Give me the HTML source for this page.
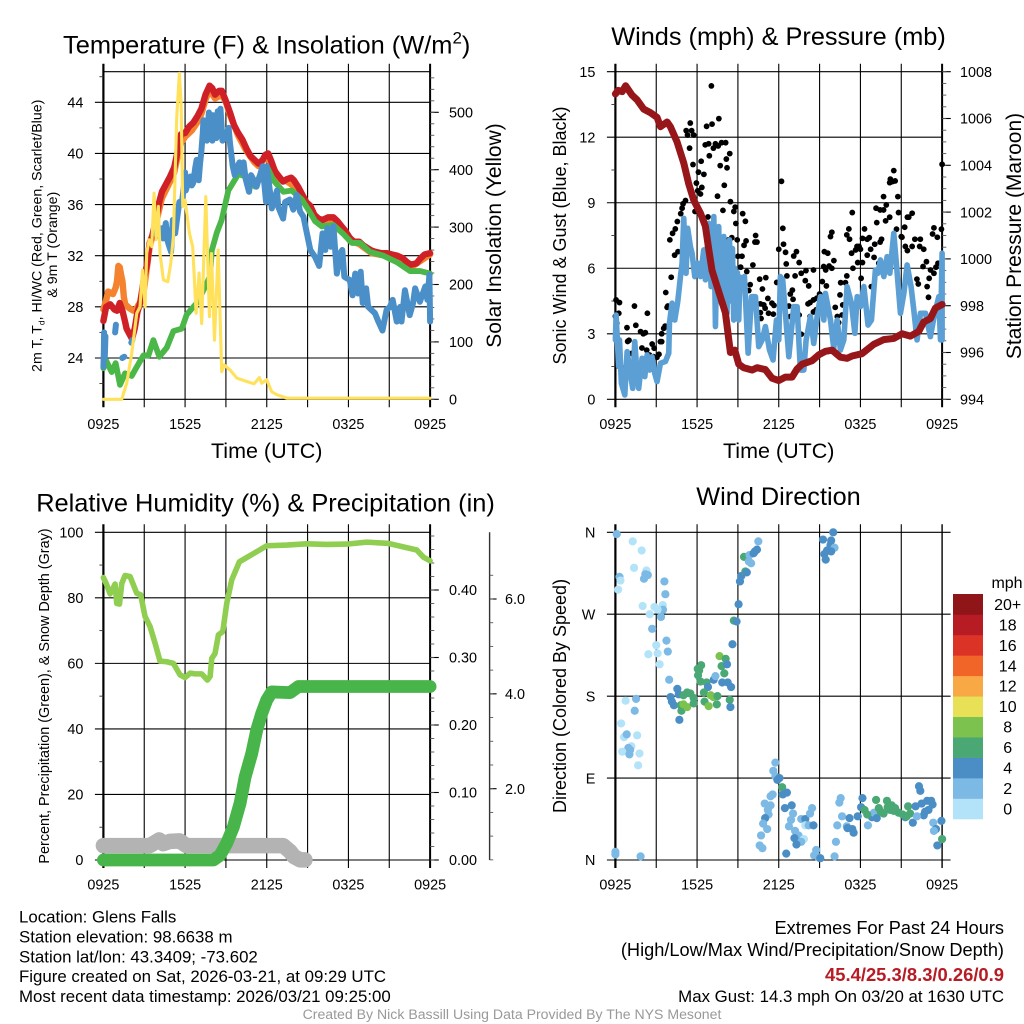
<!DOCTYPE html>
<html lang="en">
<head>
<meta charset="utf-8">
<title>Glens Falls Meteogram</title>
<style>
html,body{margin:0;padding:0;background:#fff;}
svg{display:block;font-family:"Liberation Sans",sans-serif;}
text{fill:#000;}
</style>
</head>
<body>
<svg id="chart" xmlns="http://www.w3.org/2000/svg" width="1024" height="1024" viewBox="0 0 1024 1024">
  <text x="266.7" y="53.5" font-size="25.4" text-anchor="middle">Temperature (F) &amp; Insolation (W/m<tspan dy="-10" font-size="17">2</tspan><tspan dy="10">)</tspan></text>
  <text x="778.5" y="45" font-size="25.3" text-anchor="middle">Winds (mph) &amp; Pressure (mb)</text>
  <text x="265.5" y="511.5" font-size="25.4" text-anchor="middle">Relative Humidity (%) &amp; Precipitation (in)</text>
  <text x="778.5" y="505" font-size="25.3" text-anchor="middle">Wind Direction</text>

  <text transform="translate(41.5,235.8) rotate(-90)" font-size="14.2" text-anchor="middle">2m T, T<tspan dy="3" font-size="8.5">d</tspan><tspan dy="-3">, HI/WC (Red, Green, Scarlet/Blue)</tspan></text>
  <text transform="translate(57,244.7) rotate(-90)" font-size="14.2" text-anchor="middle">&amp; 9m T (Orange)</text>
  <text transform="translate(501,235.5) rotate(-90)" font-size="21" text-anchor="middle">Solar Insolation (Yellow)</text>
  <text x="266.7" y="458" font-size="21.5" text-anchor="middle">Time (UTC)</text>
  <text transform="translate(566,235.5) rotate(-90)" font-size="18" text-anchor="middle">Sonic Wind &amp; Gust (Blue, Black)</text>
  <text transform="translate(1021,236) rotate(-90)" font-size="21" text-anchor="middle">Station Pressure (Maroon)</text>
  <text x="778.7" y="458" font-size="21.5" text-anchor="middle">Time (UTC)</text>
  <text transform="translate(49,696) rotate(-90)" font-size="14.4" text-anchor="middle">Percent, Precipitation (Green), &amp; Snow Depth (Gray)</text>
  <text transform="translate(566,696) rotate(-90)" font-size="18" text-anchor="middle">Direction (Colored By Speed)</text>

  <g id="panel-temperature"></g>
  <g id="panel-winds"></g>
  <g id="panel-humidity"></g>
  <g id="panel-direction"></g>
  <g id="speed-legend">
    <text x="1007" y="588" font-size="16" text-anchor="middle">mph</text>
  </g>

  <g font-size="16.85">
    <text x="19" y="922.5">Location: Glens Falls</text>
    <text x="19" y="942.5">Station elevation: 98.6638 m</text>
    <text x="19" y="962.5">Station lat/lon: 43.3409; -73.602</text>
    <text x="19" y="982">Figure created on Sat, 2026-03-21, at 09:29 UTC</text>
    <text x="19" y="1002">Most recent data timestamp: 2026/03/21 09:25:00</text>
  </g>
  <g font-size="18.2" text-anchor="end">
    <text x="1004" y="934">Extremes For Past 24 Hours</text>
    <text x="1004" y="956">(High/Low/Max Wind/Precipitation/Snow Depth)</text>
    <text x="1004" y="981" font-size="18.4" font-weight="bold" style="fill:#b71c25">45.4/25.3/8.3/0.26/0.9</text>
    <text x="1004" y="1002" font-size="16.85">Max Gust: 14.3 mph On 03/20 at 1630 UTC</text>
  </g>
  <text x="512" y="1019" font-size="14.1" text-anchor="middle" style="fill:#999">Created By Nick Bassill Using Data Provided By The NYS Mesonet</text>
</svg>
<script>
// ---------- shared axis values ----------
const timeTickHours = [0, 3, 6, 9, 12, 15, 18, 21, 24];
const timeTickLabels = ['0925', '', '1525', '', '2125', '', '0325', '', '0925'];

// ---------- temperature panel ----------
const tempTicks = [24, 28, 32, 36, 40, 44];
const solarTicks = [0, 100, 200, 300, 400, 500];
const redHours = [0,.2,.5,.8,1,1.2,1.4,1.6,1.7,1.9,2.1,2.3,2.5,2.7,2.95,3.2,3.4,3.6,3.9,4.1,4.3,4.6,4.9,5.2,5.5,5.7,6,6.3,6.6,6.9,7.2,7.5,7.8,8,8.2,8.5,8.7,9,9.3,9.6,9.9,10.2,10.5,10.8,11.1,11.4,11.7,11.9,12.1,12.3,12.6,12.9,13.2,13.5,13.8,14,14.3,14.6,14.9,15.2,15.5,15.8,16.1,16.5,16.9,17.2,17.5,17.8,18.1,18.4,18.8,19.1,19.4,19.7,20,20.4,20.8,21.2,21.6,22,22.3,22.6,23,23.3,23.6,24];
const redValues = [26.9,28,28.2,27.8,27.7,28.3,27.7,26.8,26.3,25.9,25.5,26.3,27.6,28.3,30,31.3,33,33.6,35,36.2,37,37.6,38.2,38.9,40.4,41.5,41.6,42.1,42.4,42.9,43.5,44.6,45.3,45.1,44.6,44.9,44.9,44.1,43.2,42.2,41.6,41.1,40.4,39.8,39.5,39.2,39.5,39.9,40,39.5,38.6,38.2,37.8,38,38.1,37.9,37.4,36.8,36.2,35.9,35.2,34.9,34.8,35,35,34.7,34.3,33.9,33.4,33.1,33.1,32.8,32.6,32.4,32.3,32.2,32.2,32.1,32,31.8,31.5,31.3,31.4,31.8,32.1,32.2];
const orangeHours = [0,.2,.35,.7,.9,1,1.1,1.2,1.3,1.4,1.5,1.6,1.9,2.2,2.4,2.6,2.8,3,3.4,3.9,4.3,4.9,5.2,5.5,5.7,6,6.5,7,7.2,7.5,7.8,8.2,8.7,9,9.3,9.9,10.5,11.1,11.4,11.9,12.3,12.9,13.5,14.3,14.9,15.5,16.1,16.9,17.5,18.1,18.8,19.7,20.8,21.6,22.6,23.3,24];
const orangeValues = [27.8,28.5,29.2,29,29.5,30,31.2,31.1,30.5,30,28.8,28.2,27.9,27.7,27.8,28.2,28.5,29.5,32.7,34.7,36.5,37.8,38.5,40,40.8,41.3,41.8,42.6,43.1,44.2,45,44.3,44.6,44,43,41.4,40.2,39.3,39,39.7,39.3,38,37.8,37.2,36,35,34.6,34.8,34.1,33.2,32.9,32.2,32,31.8,31.1,31.6,32.1];
const dewGreenHours = [0,.2,.61,.9,1.22,1.59,2.08,2.45,2.94,3.31,3.67,4.11,4.65,5.14,5.76,6.12,6.86,7.35,7.84,7.96,8.33,8.69,9.18,9.92,10.65,11.14,11.51,12,12.49,13.23,13.84,14.57,15.06,15.55,16.04,16.9,17.63,18.25,18.86,19.59,20.57,21.55,22.53,23.27,24];
const dewGreenValues = [23.2,23.8,22.9,23.6,21.9,22.8,22.6,23.3,24.2,24.2,25.4,24.1,24.8,26.1,26.3,27.4,28.3,29.3,30.4,32.4,33.8,34.8,37.1,38.4,38.1,37.4,38.3,39,37.9,37,37.1,36.4,35.6,34.7,34.3,34.4,33.7,33,33,32.3,32,31.5,30.8,30.8,30.6];
const chillBlueHours = [0,.03,.05,.1,.15,null,.86,.92,null,1.38,1.54,null,2.05,2.12,null,3.8,3.92,4.1,4.3,4.4,4.58,4.73,4.97,5.1,5.27,5.4,5.58,5.75,5.9,6,6.05,6.2,6.4,6.5,6.6,6.75,6.85,7,7.1,7.2,7.3,7.35,7.45,7.6,7.75,7.85,8,8.05,8.15,8.3,8.4,8.5,8.6,8.75,8.95,9.05,9.2,9.3,9.5,9.65,9.85,10,10.15,10.3,10.45,10.6,10.7,10.85,11,11.25,11.7,11.95,12,12.25,12.37,12.75,12.85,13.2,13.35,13.7,13.95,14.2,14.45,14.7,14.95,15.2,15.55,15.85,16.1,16.3,16.45,16.7,16.9,17.15,17.4,17.55,17.7,18.1,18.3,18.5,18.7,18.9,19.05,19.3,19.45,19.95,20.2,20.5,20.8,21.05,21.25,21.55,21.8,21.9,22.15,22.5,22.75,22.9,23.25,23.65,23.8,23.95,24];
const chillBlueValues = [23.3,24.4,26,24,25.7,null,26,26.6,null,24,24.1,null,25.2,25.4,null,33.75,34.4,33.5,34.15,33.35,34.55,33.1,32.3,34.8,33.75,34.8,36.2,36,37.3,38.5,37.1,37.6,38.2,37.5,37.7,38.9,39.5,37.9,39.2,40.2,41.6,42.6,41.5,41,43.2,42,41,43,41.3,41.2,43.3,41.5,43.5,41,41.2,41.5,42,40.8,39,38.3,39,39.3,38.5,39.3,38,37.4,37,38.3,38,37.4,39,36.2,39,36.9,35.7,37.1,35.8,34.9,36.2,36.4,35.6,36.75,35.45,35.05,33.75,32.45,31.9,31.2,33.75,32.45,34.15,32.7,34.3,30.6,32.2,32.45,30.35,30.1,28.9,30.6,29.05,30.75,28.3,29.45,28,27.5,26.85,26.15,27.75,28,28.55,26.85,28,26.85,29.3,27.35,28.3,29.45,28.4,29.6,28.55,30.5,26.85];
const solarHours = [0,1.35,1.71,2.08,2.45,2.69,2.87,3.06,3.18,3.36,3.55,3.72,3.87,4.04,4.16,4.41,4.73,4.95,5.14,5.39,5.58,5.71,5.83,6,6.32,6.56,6.81,7.03,7.22,7.52,7.79,7.94,8.16,8.43,8.69,8.87,9.31,9.8,10.53,11.07,11.46,11.63,12,12.37,12.74,13.47,24];
const solarValues = [0,0,28,80,150,161,225,161,254,278,266,359,278,336,254,208,205,237,283,492,568,516,336,347,289,266,150,220,132,353,144,254,103,260,48,60,51,37,31,27,38,28,34,13,8,2,2];

// ---------- winds panel ----------
const windTicks = [0, 3, 6, 9, 12, 15];
const pressureTicks = [994, 996, 998, 1000, 1002, 1004, 1006, 1008];
const sonicHours = [0,.05,.24,.3,.44,.69,.86,1.1,1.27,1.42,1.59,1.71,1.96,2.16,2.33,2.5,2.69,2.89,3.06,3.31,3.67,3.92,3.97,4.16,4.36,4.58,4.78,4.9,5.02,5.19,5.31,5.51,5.63,5.83,6.05,6.25,6.49,6.61,6.86,7.03,7.12,7.18,7.23,7.35,7.45,7.52,7.59,7.68,7.79,7.88,7.96,8.04,8.12,8.2,8.28,8.38,8.5,8.6,8.69,8.78,8.87,8.96,9.06,9.15,9.26,9.48,9.75,10,10.29,10.53,10.78,11.02,11.32,11.58,11.83,12,12.12,12.29,12.49,12.74,13.1,13.35,13.59,13.84,14.01,14.33,14.57,14.82,15.06,15.31,15.43,15.8,16.04,16.29,16.53,16.78,17.02,17.34,17.59,17.76,18,18.25,18.56,18.81,19.1,19.28,19.47,19.72,19.96,20.16,20.45,20.7,20.94,21.19,21.43,21.72,21.92,22.16,22.41,22.78,23.14,23.46,23.76,23.88,24,24];
const sonicValues = [2.72,3.86,1.5,2.72,.73,.2,2.18,1.19,.5,2.64,1.19,.5,1.88,1.04,2.03,1.34,1.95,1.19,.81,1.65,1.73,2.11,3.48,4.4,3.63,4.47,5.62,6.23,8.29,5.77,7.83,6.99,6.69,5.62,6.23,5.62,6.84,5.47,8.06,5.16,7,5.5,8.37,3.33,6.9,4.6,7.91,4.9,4.4,7,7.45,4.6,6.9,3.94,6.6,7.3,4.5,6.9,3.63,6,4.2,5.8,3.63,5.6,5.47,5.62,2.11,4.7,4.7,2.41,2.72,3.33,2.26,1.8,3.63,2.72,5.62,5.47,3.94,1.95,4.24,4.24,1.34,1.34,2.72,3.79,2.56,3.79,4.7,3.63,4.85,3.63,2.34,3.63,2.26,2.72,5.16,4.4,3.02,4.7,4.24,5.16,3.4,3.63,5.92,5.77,6.38,5.62,6.53,5.77,7.6,5.77,3.94,4.85,6.15,5.16,4.09,2.72,3.94,3.94,2.87,3.94,4.7,2.72,6.69,2.72];
const pressureHours = [0,.2,.5,.75,1.22,1.59,2.08,2.57,3.06,3.31,3.8,4.04,4.53,5.02,5.39,5.76,6.25,6.61,6.86,7.1,7.59,8.08,8.33,8.45,8.77,9.06,9.43,10.04,10.41,11.02,11.51,12,12.49,12.98,13.35,13.72,14.45,14.94,15.43,15.92,16.53,17.02,17.39,18.12,18.98,19.71,20.45,21.06,21.67,22.28,22.65,23.14,23.51,24];
const pressureValues = [1007.05,1007.2,1007.15,1007.4,1007,1006.8,1006.4,1006.25,1006.05,1005.65,1005.85,1005.65,1005,1004.1,1003.2,1002.5,1001.95,1001.4,1000.4,999.5,998.6,997.7,996.55,996,996.1,995.5,995.35,995.25,995.35,995.27,994.9,994.8,994.95,994.95,995.3,995.5,995.65,995.9,996.05,996.1,995.8,995.75,995.85,995.95,996.35,996.55,996.6,996.8,996.7,996.9,997.3,997.45,997.9,998.05];
const gustHours = [0,.05,.3,.25,.1,.85,1,.9,1.4,1.5,1.85,2.05,2.2,2.35,1.95,2.3,2.7,2.85,2.5,2.8,3.05,3.2,3.3,3.4,3.4,3.55,3.65,1.2,.55,3.7,3.8,3.85,4.1,4,4.2,4.4,4.35,4.6,4.55,4.8,4.9,4.97,5.15,5.2,5.5,5.3,5.6,5.75,5.45,5.7,5.95,6.05,6.1,6.3,6.5,6.35,6.25,5.85,6.6,6.7,6.85,7.1,7.05,6.9,7.2,7.35,7.6,7.55,7.8,8.1,8.4,8.15,8.2,7.7,8,7.5,6.8,7.9,8.45,8.8,8.7,9.35,8.85,9.55,8.55,8.95,8.3,8.5,9,9.3,9.6,9.45,10.3,10.25,10.4,9.2,10.1,9.65,9.05,10.6,11.05,9.9,10.8,9.8,9.9,10.65,11.2,10.9,11,10.65,10.7,11.25,11.6,11.5,11.65,11.85,12,12.2,12.3,12.35,12.5,12.55,12.6,12.75,12.85,13,13.05,12.85,13.1,13.3,13.2,13.5,13.65,13.5,13.65,14,13.95,14.2,14.55,14.15,14.3,14.55,14.8,15,14.3,14.55,14.75,15.2,15.3,15.5,15.45,15.35,15.6,15.8,15.9,15.7,16.05,15.9,16.15,16.3,16.4,16.65,16.5,16.7,16.55,16.9,17,17.15,17,17.2,17.35,17.4,17.45,17.65,17.75,17.9,18,17.8,18.05,18.15,18.3,18.15,18.5,18.65,18.5,18.75,19,19.05,19.55,19.45,19.15,19.45,19.7,19.9,19.7,19.2,19.85,20.15,19.35,18.8,20.2,20.15,20.35,20.45,20.55,20.75,20.8,20.65,21,21.05,21.25,21.45,21.55,21.8,21.3,21.45,21.8,22,22.35,22.4,22.65,22.15,22.25,22.6,22.85,23,22.9,23.05,23.15,23.4,23.55,23.7,23.3,23.4,23.65,23.95,24];
const gustValues = [3.8,4.55,4.43,3.94,3.48,3.28,2.7,2.65,4.27,3.39,3.1,3,3.05,3.94,2.35,2.25,2.53,2.34,2.03,1.95,1.92,2.06,2.64,2.64,3,3.25,3.35,2.1,1.42,4.89,4.21,4.27,5.59,7.3,7.6,7.8,6.6,6.76,8.14,8.5,8.75,8.95,9.1,12.3,12.65,12.1,12.3,12.1,11.5,10.75,9.9,9.55,10.4,10.9,10.3,9.7,9.4,8.6,11.65,12.5,11.7,12.6,14.35,11.15,11.5,11.7,12.85,11.6,11.75,11.75,11.25,11,10.6,10.7,9.8,9.3,8.35,8.65,9.05,8.8,8.6,8.5,8.05,8.15,7.4,7.3,7.3,6.7,6.55,6.55,7.25,7.05,7.5,7.2,7.2,6.05,6.15,5.85,5.6,5.5,5.57,5.25,5.05,4.98,4.27,4.37,4.62,4.32,4.17,3.97,3.7,3.94,3.9,4.4,4.3,5.35,6.87,9.98,7.83,7.1,6.73,6.2,5.65,4.27,4.82,5,4.58,3.79,6.56,6.76,5.65,6.26,5.77,3.86,2.98,5.89,5.43,5.19,5.92,4.37,4.43,4.55,4.63,4.82,3.79,4,4.1,5.39,6.08,5.19,5.92,6.76,6.69,7.45,7.65,6.1,6.35,6,4.21,3.79,3.51,3.86,4.78,4.32,5.34,5.34,5.65,7.8,7.53,7.33,6.69,8.55,6,6.84,7,7,6.87,6.26,5.54,6.26,7.8,7.37,7.33,7.4,6.6,6.87,6.5,7.1,7.33,7.2,8.75,8.67,8.67,8.9,9.28,8.09,8.17,8.34,6.23,5.16,10.08,9.92,9.97,10.47,10,9.28,8.55,7.79,7.45,7.42,7.88,8.34,8.34,8.52,7,6.81,7,7.33,7,7.33,6.87,5.5,5.28,6.08,6.3,4.67,5.16,5.54,5.92,5.77,6.05,6.23,7.57,7.85,7.42,7.79,10.76];

// ---------- humidity panel ----------
const humidityTicks = [0, 20, 40, 60, 80, 100];
const precipTicks = [0, .1, .2, .3, .4];
const snowTicks = [2, 4, 6];
const humidityHours = [0,.2,.49,.86,.98,1.18,1.35,1.59,1.96,2.45,2.74,3.06,3.43,3.8,4.16,4.65,5.14,5.63,6,6.37,6.74,7.22,7.64,7.84,7.96,8.2,8.45,8.77,9.06,9.43,9.99,10.65,11.27,12,13.47,14.94,16.41,17.88,19.35,20.94,23.02,23.51,24];
const humidityValues = [86.2,84.4,81.2,84.2,78.3,78.1,84.4,86.8,86.5,81.4,80.9,74.3,71.2,66.1,60.7,60.5,60,56.5,55.7,57,56.8,56.8,54.9,56,61.5,63,68.7,69.7,78.3,85.5,91,92.6,94.1,95.9,96.1,96.5,96.3,96.4,97,96.6,94.6,92.4,91.3];
const precipHours = [0,8.08,8.57,9.06,9.55,10.04,10.41,10.9,11.27,11.63,12,12.37,13.72,14.33,24];
const precipValues = [0,0,.007,.025,.049,.084,.123,.158,.193,.217,.237,.249,.248,.257,.257];
const snowHours = [0,3.4,4.1,4.4,4.9,5.6,6.1,13.2,13.7,14,14.45,14.8];
const snowValues = [.8,.8,.92,.84,.89,.9,.8,.8,.68,.57,.5,.5];

// ---------- wind direction panel ----------
const directionLabels = ['N', 'E', 'S', 'W', 'N'];
const directionTicks = [0, 90, 180, 270, 360];
const dirHours = [.1,1.27,1.93,1.37,2.28,2.2,2.38,2.1,.3,.37,.2,3.6,3.67,2,2.87,3.48,3.5,3.1,2.52,3.35,2.7,3,3.75,3.1,3.85,2.42,3.25,3.95,1.52,.75,1.42,.42,.63,.83,1.6,1.17,.95,.5,1.08,1.03,1.77,1.67,0,0,1.85,4.05,4.15,4.3,4.55,4.65,4.7,4.85,4.8,5,5.27,5,5.27,5.5,5.75,5.75,6.05,6.3,6.07,6.25,6.15,6.7,6.8,7.22,7.35,6.5,6.55,6.85,7,7.2,7.5,7.45,7.65,8.1,7.8,8.2,8,7.85,8.25,8.5,8.4,8.45,8.6,8.7,8.9,9.05,9.15,9.25,9.55,9.65,9.45,9.85,9.8,9.97,10.15,10.4,10.5,10.25,11.75,11.6,11.75,12.05,11.9,12.25,12.6,12.3,11.55,11.4,10.97,11.4,11.2,11.25,11,10.85,11.15,10.7,10.6,10.8,12.95,12.45,13.05,12.9,12.75,13.2,13.45,13.15,13.85,13.65,13.3,12.55,13.65,13.95,13.95,14.2,14.3,14.45,14.55,14.75,14.6,14.9,15.05,16.1,16.2,16.3,16.55,16.45,16.65,17,17.2,17.05,17.4,17.5,17.8,18.05,18.15,18.3,18.55,18.85,19,19.2,19.15,19.35,19.7,19.5,19.95,20.1,20.3,20.55,20.8,21.3,21.5,21.65,21.85,22.3,22.4,22.05,22.5,22.9,23.2,23.3,22.75,23,22.65,22.15,23.35,23.95,23.55,23.4,24,23.65,15.25,16,15.85,15.8,16.1,15.85,15.55,15.35,15.45,18.5,20,20.2,20.45,21.1,21.4];
const dirDegrees = [358,350,340,321,318,314,313,309,311,307,297,306,292,279,278,280,275,275,270,267,254,236,241,227,229,226,215,198,177,175,164,150,135,138,137,125,123,119,121,116,117,104,6,9,4,179,174,170,188,182,154,164,170,171,168,181,184,183,178,172,210,214,203,196,208,195,190,198,202,184,174,169,181,179,180,171,224,221,213,215,205,195,195,190,176,168,237,263,262,281,306,312,317,316,333,335,328,326,337,341,350,339,107,98,92,90,88,80,74,72,72,70,62,60,55,50,46,40,34,27,16,13,60,57,51,44,37,32,27,24,23,20,17,7,45,45,38,38,51,57,38,11,5,3,2,4,20,38,68,63,48,37,46,35,34,30,48,58,68,55,38,47,52,46,66,57,51,53,65,57,60,57,52,47,59,51,41,81,76,59,62,65,65,61,53,55,49,48,41,43,34,32,23,16,352,360,351,346,343,339,340,336,330,50,58,55,54,50,48];
const dirSpeeds = [2,0,0,0,0,2,2,2,2,0,0,2,2,0,0,0,2,0,0,2,2,0,2,0,2,0,0,2,2,0,2,0,0,2,0,0,2,0,2,2,0,0,2,2,2,4,4,4,4,4,4,6,6,8,8,6,6,6,6,6,6,6,6,6,6,6,4,4,2,6,6,8,8,8,6,6,8,6,6,4,6,4,4,4,6,4,4,6,4,4,4,4,6,4,6,2,2,2,4,4,2,4,2,2,2,4,4,6,4,4,2,2,2,2,2,2,4,2,2,2,2,2,4,4,2,2,2,2,2,4,0,2,4,4,2,4,0,2,2,2,4,2,2,2,4,2,2,2,2,2,2,2,4,4,4,4,4,4,4,6,2,4,2,4,6,6,6,6,6,6,6,6,6,4,6,6,4,4,4,4,4,4,4,4,4,4,4,2,2,4,4,2,6,4,4,4,4,4,2,4,4,4,4,6,6,6,6,6,6];
const speedBinColors = ['#b3e3f8', '#7cb9e5', '#4a8ec5', '#4aa874', '#7cc24f', '#e8e056', '#f9a846', '#f26529', '#dc3327', '#b71c25', '#8f1519'];
const speedBinLabels = ['0', '2', '4', '6', '8', '10', '12', '14', '16', '18', '20+'];

// ---------- geometry and axis functions ----------
const NS = 'http://www.w3.org/2000/svg';
const LEFT_A = 103.4, RIGHT_A = 430.1, LEFT_B = 615.4, RIGHT_B = 942.1;
const TOP_1 = 71.7, BOTTOM_1 = 399.3, TOP_2 = 532.3, BOTTOM_2 = 860;

function scale(d0, d1, r0, r1) { return v => r0 + (v - d0) * (r1 - r0) / (d1 - d0); }
const xA = scale(0, 24, LEFT_A, RIGHT_A);
const xB = scale(0, 24, LEFT_B, RIGHT_B);
const yTemp = scale(24, 44, 358, 102.3);
const ySolar = scale(0, 500, BOTTOM_1, 112.3);
const yWind = scale(0, 15, BOTTOM_1, TOP_1);
const yPressure = scale(994, 1008, BOTTOM_1, TOP_1);
const yHumidity = scale(0, 100, BOTTOM_2, TOP_2);
const yPrecip = scale(0, .4, BOTTOM_2, 590);
const ySnow = scale(2, 6, 788.7, 599);
const yDirection = scale(0, 360, BOTTOM_2, TOP_2);

function mk(parent, tag, attrs) {
  const el = document.createElementNS(NS, tag);
  for (const k in attrs) el.setAttribute(k, attrs[k]);
  parent.appendChild(el);
  return el;
}
function seriesPath(parent, hours, values, xf, yf, color, width) {
  let d = '', pen = false;
  hours.forEach((h, i) => {
    if (h === null || values[i] === null) { pen = false; return; }
    d += (pen ? 'L' : 'M') + xf(h).toFixed(2) + ' ' + yf(values[i]).toFixed(2);
    pen = true;
  });
  return mk(parent, 'path', {d: d, fill: 'none', stroke: color, 'stroke-width': width, 'stroke-linecap': 'round', 'stroke-linejoin': 'round'});
}
function frame(parent, xf, top, bottom, rightWidth) {
  timeTickHours.forEach((h, i) => {
    const gl = mk(parent, 'line', {x1: xf(h), x2: xf(h), y1: top - 8, y2: bottom + 8, stroke: '#000', 'stroke-width': (i === 0 ? 2.2 : (i === 8 ? rightWidth : 1.1))});
    
    
    if (timeTickLabels[i]) {
      const tl = mk(parent, 'text', {x: xf(h), y: bottom + 29.7, 'font-size': 14.4, 'text-anchor': 'middle'});
      tl.textContent = timeTickLabels[i];
      
      
    }
  });
}
function leftAxis(parent, xf, yf, ticks, labels, minorStep, minorMin, minorMax, extendRight) {
  const left = xf(0), right = xf(24);
  ticks.forEach((v, i) => {
    const gl = mk(parent, 'line', {x1: left - 8.5, x2: right + (extendRight ? 8.5 : 0), y1: yf(v), y2: yf(v), stroke: '#000', 'stroke-width': 1.1});
    
    
    const tl = mk(parent, 'text', {x: left - 20, y: yf(v) + 5.2, 'font-size': 14.4, 'text-anchor': 'end'});
    tl.textContent = labels[i];
    
    
  });
  if (minorStep) for (let v = minorMin; v <= minorMax + 1e-6; v += minorStep) {
    const mt = mk(parent, 'line', {x1: left - 4, x2: left, y1: yf(v), y2: yf(v), stroke: '#333', 'stroke-width': .9});
    
    
  }
}
function rightAxis(parent, x, yf, ticks, labels, minorStep, minorMin, minorMax, len, minorLen, labelX) {
  ticks.forEach((v, i) => {
    const mt = mk(parent, 'line', {x1: x, x2: x + len, y1: yf(v), y2: yf(v), stroke: '#000', 'stroke-width': 1.1});
    
    
    const tl = mk(parent, 'text', {x: labelX, y: yf(v) + 5.2, 'font-size': 14.4});
    tl.textContent = labels[i];
    
    
  });
  for (let v = minorMin; v <= minorMax + 1e-6; v += minorStep) {
    const mt = mk(parent, 'line', {x1: x, x2: x + minorLen, y1: yf(v), y2: yf(v), stroke: '#555', 'stroke-width': .9});
    
    
  }
}

// ---------- temperature panel drawing ----------
const gT = document.getElementById('panel-temperature');
frame(gT, xA, TOP_1, BOTTOM_1, 2);
const topT = mk(gT, 'line', {x1: LEFT_A, x2: RIGHT_A, y1: TOP_1, y2: TOP_1, stroke: '#000', 'stroke-width': 1.1});


const botT = mk(gT, 'line', {x1: LEFT_A, x2: RIGHT_A, y1: BOTTOM_1, y2: BOTTOM_1, stroke: '#000', 'stroke-width': 1.1});


leftAxis(gT, xA, yTemp, tempTicks, tempTicks.map(String), 4, 22, 46);
rightAxis(gT, RIGHT_A, ySolar, solarTicks, solarTicks.map(String), 20, 0, 560, 8.7, 4.2, 449);
const sOrange = seriesPath(gT, orangeHours, orangeValues, xA, yTemp, '#f5822f', 6.4);


const sRed = seriesPath(gT, redHours, redValues, xA, yTemp, '#cf2027', 6.4);


const sGreen = seriesPath(gT, dewGreenHours, dewGreenValues, xA, yTemp, '#4ab748', 5.8);


const sBlue = seriesPath(gT, chillBlueHours, chillBlueValues, xA, yTemp, '#4a8fc8', 6);


const sYellow = seriesPath(gT, solarHours, solarValues, xA, ySolar, '#ffe15b', 3.1);



// ---------- winds panel drawing ----------
const gW = document.getElementById('panel-winds');
frame(gW, xB, TOP_1, BOTTOM_1, 2);
leftAxis(gW, xB, yWind, windTicks, windTicks.map(String), 3, 1.5, 13.5);
rightAxis(gW, RIGHT_B, yPressure, pressureTicks, pressureTicks.map(String), .5, 994, 1008, 8.7, 4.2, 960);
gustHours.forEach((h, i) => {
  const dot = mk(gW, 'circle', {cx: xB(h), cy: yWind(gustValues[i]), r: 2.9, fill: '#000'});
  
  
});
const sSonic = seriesPath(gW, sonicHours, sonicValues, xB, yWind, '#5b9fd4', 5.6);


const sPressure = seriesPath(gW, pressureHours, pressureValues, xB, yPressure, '#97161a', 7);



// ---------- humidity panel drawing ----------
const gH = document.getElementById('panel-humidity');
frame(gH, xA, TOP_2, BOTTOM_2, 2);
leftAxis(gH, xA, yHumidity, humidityTicks, humidityTicks.map(String), 20, 10, 90);
rightAxis(gH, RIGHT_A, yPrecip, precipTicks, precipTicks.map(v => v.toFixed(2)), .02, 0, .48, 8.7, 4.2, 449);
const snowSpine = mk(gH, 'line', {x1: 489.6, x2: 489.6, y1: TOP_2, y2: BOTTOM_2, stroke: '#333', 'stroke-width': 1.4});


rightAxis(gH, 489.6, ySnow, snowTicks, snowTicks.map(v => v.toFixed(1)), .5, .5, 6.5, 7, 3.6, 505);
const sSnow = seriesPath(gH, snowHours, snowValues, xA, ySnow, '#b3b3b3', 15.5);


const sHumidity = seriesPath(gH, humidityHours, humidityValues, xA, yHumidity, '#8fce50', 5.6);


const sPrecip = seriesPath(gH, precipHours, precipValues, xA, yPrecip, '#47b549', 12.8);



// ---------- direction panel drawing ----------
const gD = document.getElementById('panel-direction');
frame(gD, xB, TOP_2, BOTTOM_2, 1.4);
leftAxis(gD, xB, yDirection, directionTicks, directionLabels, 0, 0, 0, true);
function speedColor(speed) { return speedBinColors[Math.min(speedBinColors.length - 1, Math.max(0, Math.round(speed / 2)))]; }
dirHours.forEach((h, i) => {
  const dot = mk(gD, 'circle', {cx: xB(h), cy: yDirection(dirDegrees[i]), r: 4.1, fill: speedColor(dirSpeeds[i])});
  
  
});

// ---------- legend ----------
const gL = document.getElementById('speed-legend');
const LEG_TOP = 594, LEG_BOX = 225 / 11;
speedBinLabels.forEach((lab, i) => {
  const row = speedBinLabels.length - 1 - i;
  const box = mk(gL, 'rect', {x: 953, y: LEG_TOP + row * LEG_BOX, width: 30, height: LEG_BOX + .3, fill: speedBinColors[i]});
  
  
  const tx = mk(gL, 'text', {x: 1007.7, y: LEG_TOP + row * LEG_BOX + LEG_BOX / 2 + 5.7, 'font-size': 16, 'text-anchor': 'middle'});
  tx.textContent = lab;
  
  
});
</script>
</body>
</html>
